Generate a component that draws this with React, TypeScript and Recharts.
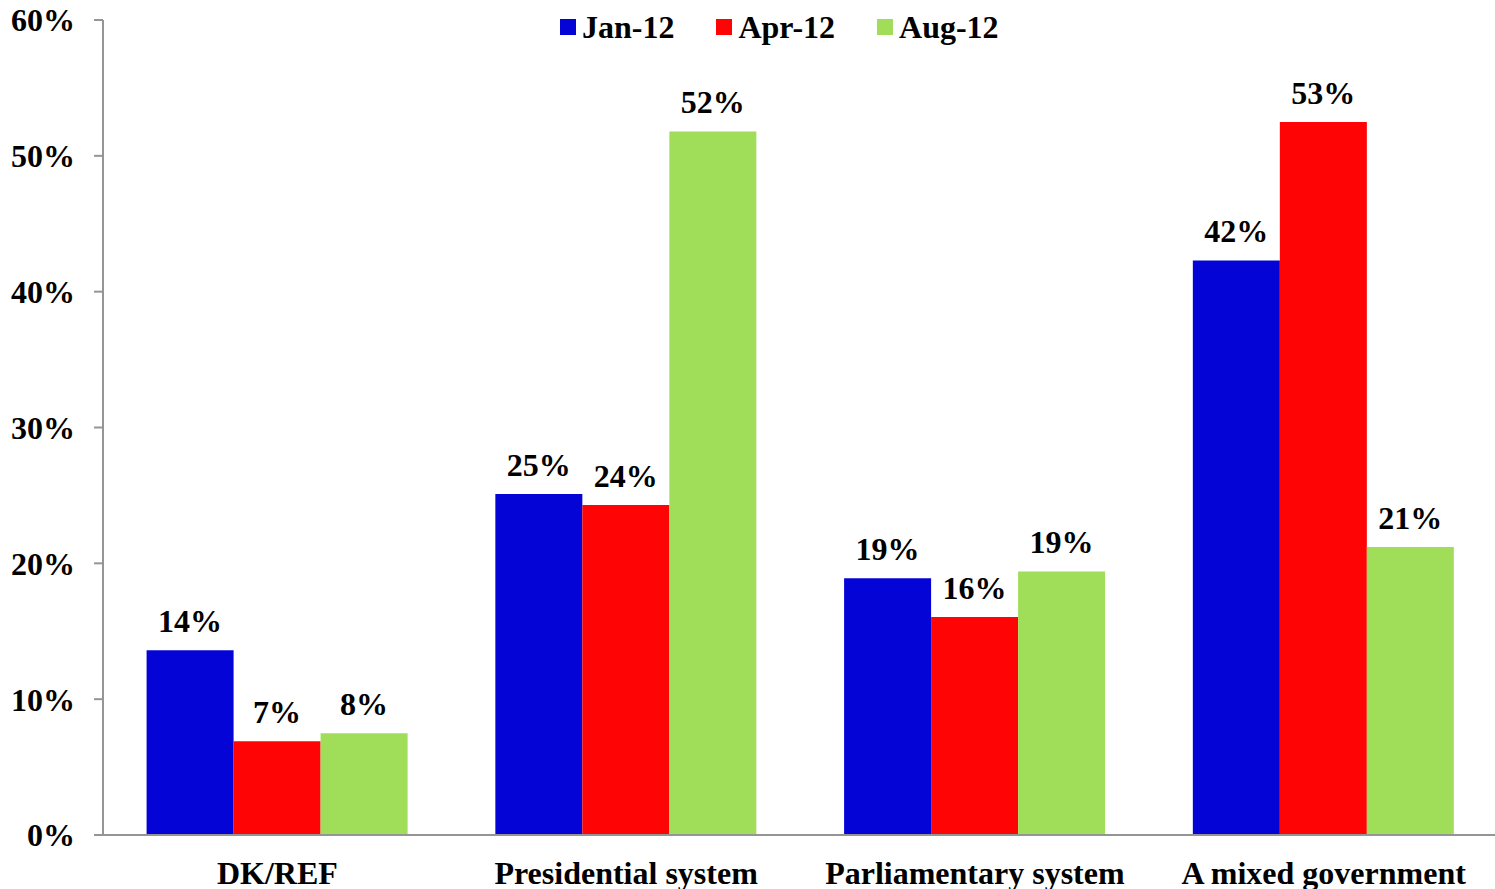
import React from "react";
import { Bar, BarChart, LabelList, XAxis, YAxis } from "recharts";

const categories = ["DK/REF", "Presidential system", "Parliamentary system", "A mixed government"];
const seriesNames = ["Jan-12", "Apr-12", "Aug-12"];
const jan12 = [13.6, 25.1, 18.9, 42.3];
const apr12 = [6.9, 24.3, 16.05, 52.5];
const aug12 = [7.5, 51.8, 19.4, 21.2];
const yTicks = [0, 10, 20, 30, 40, 50, 60];
// category boundaries where the x-axis tick marks sit
const boundaryTicks = [0, 1, 2, 3];

const COLORS = ["#0404d6", "#fe0404", "#a0de5a"];
const FONT = '"Liberation Serif", "Times New Roman", serif';
const AXIS = "#959595";
const FS = 32;

const data = categories.map((name, i) => ({
  name,
  pos: i + 0.5,
  s0: jan12[i],
  s1: apr12[i],
  s2: aug12[i],
}));

const pct = (v: number | string) => `${Math.round(Number(v))}%`;

export default function App() {
  const tickStyle = { fill: "#000", fontFamily: FONT, fontWeight: 700, fontSize: FS };

  return (
    <div style={{ position: "absolute", left: 0, top: 0, width: 1495, height: 889, background: "#fff", overflow: "hidden" }}>
      <BarChart
        width={1498}
        height={889}
        data={data}
        margin={{ top: 20, right: 0, bottom: 0, left: 0 }}
        barCategoryGap="12.5%"
        barGap={0}
      >
        <YAxis
          width={103}
          domain={[0, 60]}
          ticks={yTicks}
          tickFormatter={(v) => `${v}%`}
          stroke={AXIS}
          strokeWidth={2}
          tickSize={9}
          tickMargin={19}
          tick={tickStyle}
          tickLine={{ stroke: AXIS, strokeWidth: 2 }}
        />
        <XAxis
          xAxisId="cat"
          dataKey="name"
          height={45}
          axisLine={false}
          tickLine={false}
          tickSize={0}
          tickMargin={17}
          tick={tickStyle}
          interval={0}
        />
        <XAxis
          xAxisId={0}
          dataKey="pos"
          type="number"
          domain={[0, 4]}
          ticks={boundaryTicks}
          height={9}
          stroke={AXIS}
          strokeWidth={2}
          tickSize={9}
          tick={false}
          tickLine={{ stroke: AXIS, strokeWidth: 2 }}
        />
        {seriesNames.map((s, i) => (
          <Bar key={s} xAxisId="cat" dataKey={`s${i}`} name={s} fill={COLORS[i]} isAnimationActive={false}>
            <LabelList
              dataKey={`s${i}`}
              position="top"
              offset={18}
              formatter={pct}
              style={{ fill: "#000", fontFamily: FONT, fontWeight: 700, fontSize: FS }}
            />
          </Bar>
        ))}
      </BarChart>
      <div
        style={{
          position: "absolute",
          left: 560,
          top: 7,
          display: "flex",
          alignItems: "center",
          fontFamily: FONT,
          fontWeight: 700,
          fontSize: FS,
          lineHeight: "40px",
          color: "#000",
        }}
      >
        {seriesNames.map((s, i) => (
          <div key={s} style={{ display: "flex", alignItems: "center", marginRight: 42 }}>
            <span style={{ width: 16, height: 16, background: COLORS[i], marginRight: 6, display: "inline-block" }} />
            <span>{s}</span>
          </div>
        ))}
      </div>
    </div>
  );
}
